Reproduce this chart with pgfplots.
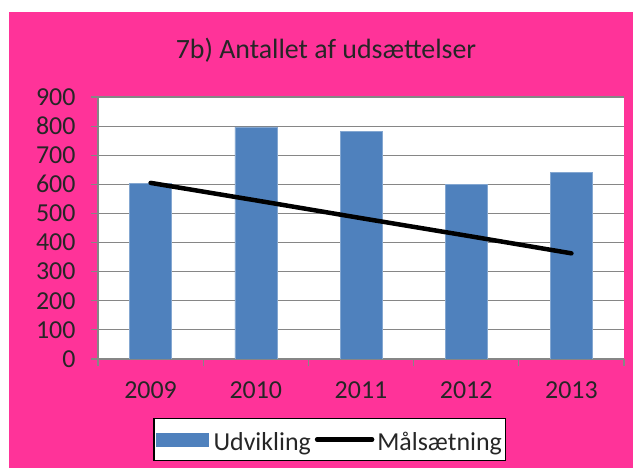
\documentclass[border=0pt]{standalone}
\usepackage{pgfplots}
\pgfplotsset{compat=1.18}
\usepackage{fontspec}
\setmainfont{Carlito}
\definecolor{pinkbg}{RGB}{255,51,153}
\definecolor{barblue}{RGB}{79,129,189}
\definecolor{gridgray}{RGB}{134,134,134}
\begin{document}
\begin{tikzpicture}
\useasboundingbox (0,0) rectangle (633bp,468bp);
\fill[pinkbg] (9bp,0) rectangle (633bp,456bp);
\node[font=\fontsize{28}{32}\selectfont, anchor=base, inner sep=0pt, text=black!85] at (326bp,409bp) {7b) Antallet af udsættelser};
\begin{axis}[
  at={(98bp,109bp)}, anchor=south west,
  scale only axis, width=526bp, height=262bp,
  xmin=-0.5, xmax=4.5, ymin=0, ymax=900,
  axis background/.style={fill=white},
  axis x line*=bottom, axis y line*=left,
  axis line style={gridgray, line width=1.2bp},
  xtick={0,1,2,3,4},
  xticklabels={2009,2010,2011,2012,2013},
  major x tick style={draw=none},
  minor xtick={-0.5,0.5,1.5,2.5,3.5,4.5},
  minor x tick style={gridgray, line width=1.2bp},
  ytick={0,100,...,900},
  major y tick style={gridgray, line width=1.2bp},
  tick align=outside,
  major tick length=7bp, minor tick length=7bp,
  ymajorgrids,
  major grid style={gridgray, line width=1.1bp},
  /pgf/number format/assume math mode=true,
  tick label style={font=\fontsize{26}{28}\selectfont, text=black!85},
  yticklabel style={xshift=-12bp},
  xticklabel style={yshift=-12bp},
  legend columns=2,
  legend style={at={(0.441,-0.307)}, anchor=center, draw=black, line width=1.2bp, fill=white,
    font=\fontsize{26}{28}\selectfont, text=black!85, inner ysep=6bp, inner xsep=2bp,
    cells={text height=24bp, text depth=10bp},
    /tikz/every even column/.append style={column sep=2bp}},
]
\addplot[ybar, bar width=42bp, fill=barblue, draw=barblue!70!white, line width=0.5bp,
  legend image code/.code={\fill[barblue] (0bp,-6.5bp) rectangle (52bp,6.5bp);}]
  coordinates {(0,604) (1,797) (2,781) (3,600) (4,640)};
\addlegendentry{\hspace{3bp}Udvikling}
\addplot[black, line width=4.5bp, line cap=round, no marks,
  legend image code/.code={\draw[black, line width=4.5bp, line cap=round] (0bp,0bp) -- (55bp,0bp);}]
  coordinates {(0,605) (1,545) (2,484) (3,424) (4,363)};
\addlegendentry{\hspace{1bp}Målsætning}
\end{axis}
\end{tikzpicture}
\end{document}
